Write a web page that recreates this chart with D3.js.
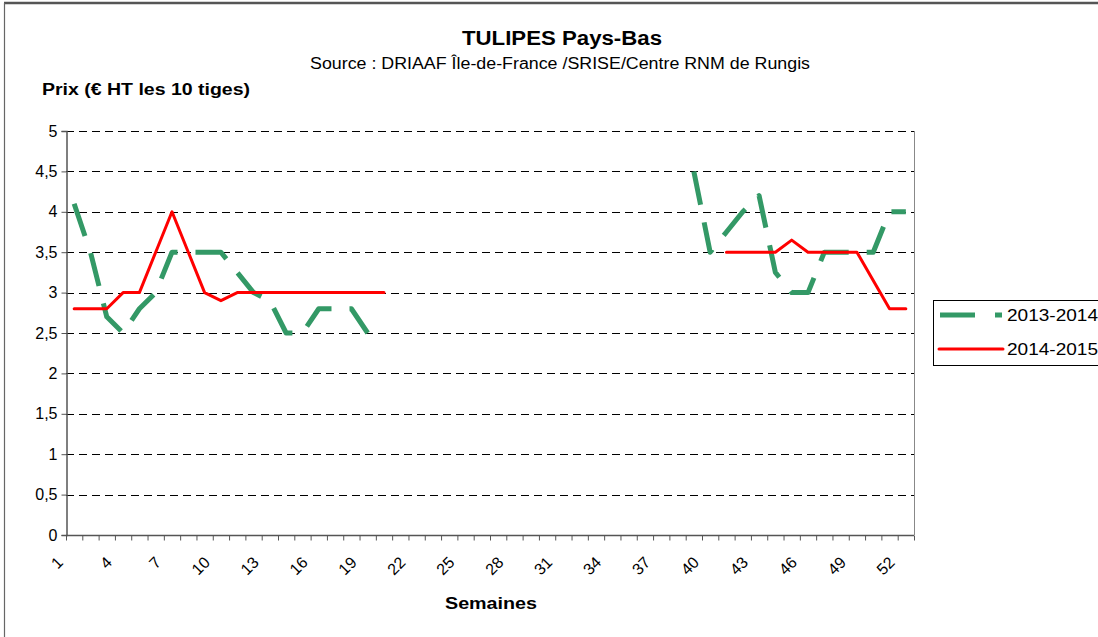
<!DOCTYPE html>
<html>
<head>
<meta charset="utf-8">
<script src="https://cdn.jsdelivr.net/npm/d3@7"></script>
<style>
    body { margin: 0; background: #fff; }
    svg { display: block; font-family: "Liberation Sans", Arial, sans-serif; }
</style>
</head>
<body>
<div id="chart"></div>
<script>
// weeks 1..52
const weeks = d3.range(1, 53);
const tickWeeks = d3.range(1, 53, 3);
const yTicks = d3.range(0, 5.01, 0.5);

// 2013-2014 (dashed green), null = no data
const serie1314 = [4.1, 3.5, 2.7, 2.5, 2.8, 3.0, 3.5, 3.5, 3.5, 3.5, 3.25, 3.0, 2.9, 2.5, 2.5, 2.8, 2.8, 2.8, 2.5,
    null, null, null, null, null, null, null, null, null, null, null, null, null, null, null, null, null, null, null,
    4.5, 3.5, 3.75, 4.0, 4.2, 3.25, 3.0, 3.0, 3.5, 3.5, 3.5, 3.5, 4.0, 4.0];

// 2014-2015 (red)
const serie1415 = [2.8, 2.8, 2.8, 3.0, 3.0, 3.5, 4.0, 3.5, 3.0, 2.9, 3.0, 3.0, 3.0, 3.0, 3.0, 3.0, 3.0, 3.0, 3.0, 3.0,
    null, null, null, null, null, null, null, null, null, null, null, null, null, null, null, null, null, null, null, null,
    3.5, 3.5, 3.5, 3.5, 3.65, 3.5, 3.5, 3.5, 3.5, 3.15, 2.8, 2.8];

const seriesNames = ["2013-2014", "2014-2015"];

const W = 1098, H = 637;
const plot = {left: 66, right: 914, top: 131, bottom: 535};

const svg = d3.select("#chart").append("svg")
    .attr("width", W)
    .attr("height", H);

// outer frame (top and left edges visible)
svg.append("line").attr("x1", 4).attr("x2", W).attr("y1", 3).attr("y2", 3)
    .attr("stroke", "#555").attr("stroke-width", 2.5);
svg.append("line").attr("x1", 4.5).attr("x2", 4.5).attr("y1", 3).attr("y2", H)
    .attr("stroke", "#666").attr("stroke-width", 1.2);

// scales
const x = d3.scaleBand().domain(weeks).range([plot.left, plot.right]).padding(0);
const y = d3.scaleLinear().domain([0, 5]).range([plot.bottom, plot.top]);
const cx = d => x(d) + x.bandwidth() / 2;

// titles
svg.append("text")
    .attr("x", 562).attr("y", 45)
    .attr("text-anchor", "middle")
    .attr("font-size", 20).attr("font-weight", "bold")
    .attr("textLength", 200).attr("lengthAdjust", "spacingAndGlyphs")
    .text("TULIPES Pays-Bas");

svg.append("text")
    .attr("x", 560).attr("y", 69)
    .attr("text-anchor", "middle")
    .attr("font-size", 16)
    .attr("textLength", 500).attr("lengthAdjust", "spacingAndGlyphs")
    .text("Source : DRIAAF Île-de-France /SRISE/Centre RNM de Rungis");

svg.append("text")
    .attr("x", 42).attr("y", 95)
    .attr("font-size", 16).attr("font-weight", "bold")
    .attr("textLength", 208).attr("lengthAdjust", "spacingAndGlyphs")
    .text("Prix (€ HT les 10 tiges)");

svg.append("text")
    .attr("x", 491).attr("y", 609)
    .attr("text-anchor", "middle")
    .attr("font-size", 16).attr("font-weight", "bold")
    .attr("textLength", 92).attr("lengthAdjust", "spacingAndGlyphs")
    .text("Semaines");

// gridlines
svg.append("g").selectAll("line")
    .data(yTicks.filter(d => d > 0))
    .join("line")
    .attr("x1", plot.left).attr("x2", plot.right)
    .attr("y1", d => Math.round(y(d)) + 0.5).attr("y2", d => Math.round(y(d)) + 0.5)
    .attr("stroke", "#000")
    .attr("stroke-dasharray", "8,5");

// right border of plot
svg.append("line")
    .attr("x1", plot.right + 0.5).attr("x2", plot.right + 0.5)
    .attr("y1", plot.top).attr("y2", plot.bottom)
    .attr("stroke", "#888");

// y axis
const yAxis = d3.axisLeft(y)
    .tickValues(yTicks)
    .tickSize(5)
    .tickPadding(4)
    .tickFormat(d => d3.format("")(d).replace(".", ","));
const gy = svg.append("g")
    .attr("transform", `translate(${plot.left + 0.5},0)`)
    .call(yAxis);
gy.select(".domain").attr("stroke", "#555").attr("stroke-width", 1.5);
gy.selectAll(".tick line").attr("stroke", "#555");
gy.selectAll(".tick text").attr("font-size", 16).attr("fill", "#000")
    .attr("font-family", "Liberation Sans, Arial, sans-serif");

// x axis: ticks between categories
const gx = svg.append("g").attr("transform", `translate(0,${plot.bottom + 0.5})`);
gx.append("line")
    .attr("x1", plot.left).attr("x2", plot.right)
    .attr("stroke", "#555").attr("stroke-width", 1.5);
gx.selectAll(".xtick")
    .data(weeks.concat([53]))
    .join("line")
    .attr("class", "xtick")
    .attr("x1", d => (d <= 52 ? x(d) : plot.right) + 0.5)
    .attr("x2", d => (d <= 52 ? x(d) : plot.right) + 0.5)
    .attr("y1", 0).attr("y2", 5)
    .attr("stroke", "#555");
gx.selectAll(".xlabel")
    .data(tickWeeks)
    .join("text")
    .attr("class", "xlabel")
    .attr("text-anchor", "end")
    .attr("font-size", 16)
    .attr("transform", d => `translate(${cx(d) - 10},${28}) rotate(-45)`)
    .text(d => d);

// lines
const line = d3.line()
    .defined(d => d.v != null)
    .x(d => cx(d.w))
    .y(d => y(d.v));

const toPoints = arr => weeks.map((w, i) => ({w: w, v: arr[i]}));

svg.append("path")
    .datum(toPoints(serie1314))
    .attr("d", line)
    .attr("fill", "none")
    .attr("stroke", "#339966")
    .attr("stroke-width", 5)
    .attr("stroke-dasharray", "34,18")
    .attr("stroke-linejoin", "round");

svg.append("path")
    .datum(toPoints(serie1415))
    .attr("d", line)
    .attr("fill", "none")
    .attr("stroke", "#ff0000")
    .attr("stroke-width", 3)
    .attr("stroke-linejoin", "round")
    .attr("stroke-linecap", "round");

// legend
const legend = svg.append("g").attr("transform", "translate(933,300)");
legend.append("rect")
    .attr("x", 0.5).attr("y", 0.5)
    .attr("width", 180).attr("height", 65)
    .attr("fill", "#fff").attr("stroke", "#000");
legend.append("line")
    .attr("x1", 7).attr("x2", 69).attr("y1", 15).attr("y2", 15)
    .attr("stroke", "#339966").attr("stroke-width", 5)
    .attr("stroke-dasharray", "35,20");
legend.append("line")
    .attr("x1", 6).attr("x2", 70).attr("y1", 49).attr("y2", 49)
    .attr("stroke", "#ff0000").attr("stroke-width", 3)
    .attr("stroke-linecap", "round");
legend.selectAll(".legend-text")
    .data(seriesNames)
    .join("text")
    .attr("class", "legend-text")
    .attr("x", 74)
    .attr("y", (d, i) => 21 + i * 34)
    .attr("font-size", 17)
    .attr("textLength", 91).attr("lengthAdjust", "spacingAndGlyphs")
    .text(d => d);
</script>
</body>
</html>
